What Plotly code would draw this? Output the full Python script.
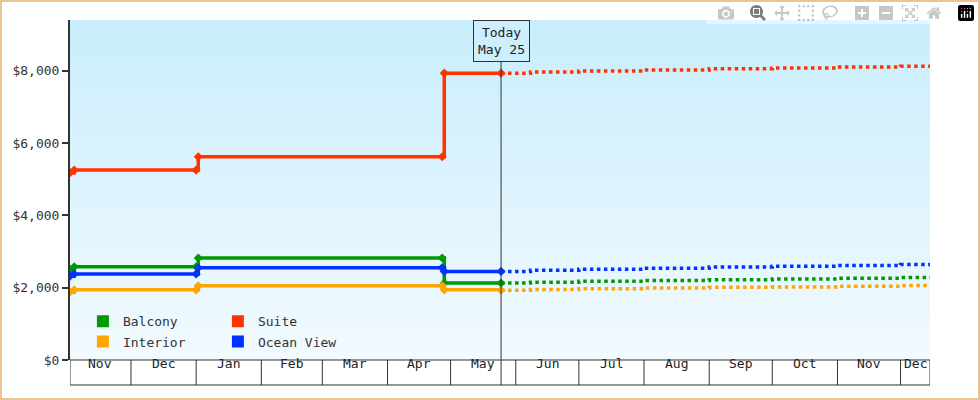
import plotly.graph_objects as go
import pandas as pd

# historical prices (step points)
hist_dates = ['2023-11-02', '2023-11-04', '2024-01-01', '2024-01-02', '2024-04-27', '2024-04-28', '2024-05-25']
balcony = [2500, 2580, 2580, 2820, 2820, 2130, 2130]
suite = [5180, 5250, 5250, 5620, 5620, 7930, 7930]
interior = [1880, 1940, 1940, 2050, 2050, 1940, 1930]
ocean_view = [2320, 2380, 2380, 2550, 2550, 2450, 2450]

# forecast prices
fc_dates = ['2024-05-25', '2024-06-08', '2024-07-01', '2024-08-01', '2024-09-01', '2024-10-01', '2024-11-01', '2024-12-01', '2024-12-15']
balcony_fc = [2130, 2150, 2180, 2200, 2220, 2240, 2260, 2280, 2280]
suite_fc = [7930, 7960, 7990, 8020, 8050, 8070, 8100, 8120, 8120]
interior_fc = [1930, 1950, 1970, 1990, 2010, 2020, 2040, 2060, 2060]
ocean_fc = [2450, 2480, 2510, 2540, 2570, 2590, 2610, 2640, 2640]

month_edges = ['2023-11-02', '2023-12-01', '2024-01-01', '2024-02-01', '2024-03-01', '2024-04-01', '2024-05-01',
               '2024-06-01', '2024-07-01', '2024-08-01', '2024-09-01', '2024-10-01', '2024-11-01', '2024-12-01', '2024-12-15']
month_labels = ['Nov', 'Dec', 'Jan', 'Feb', 'Mar', 'Apr', 'May', 'Jun', 'Jul', 'Aug', 'Sep', 'Oct', 'Nov', 'Dec']
today = '2024-05-25'

x0, x1 = month_edges[0], month_edges[-1]
ymax = 9400
series = [('Balcony', balcony, balcony_fc, '#009900', 'legend'),
          ('Suite', suite, suite_fc, '#ff3300', 'legend'),
          ('Interior', interior, interior_fc, '#ffa500', 'legend2'),
          ('Ocean View', ocean_view, ocean_fc, '#0033ff', 'legend2')]

fig = go.Figure()
# gradient background
fig.add_trace(go.Scatter(x=[x0, x1, x1, x0, x0], y=[0, 0, ymax, ymax, 0], mode='lines', line=dict(width=0),
                         fill='toself', hoverinfo='skip', showlegend=False,
                         fillgradient=dict(type='vertical', colorscale=[[0, '#f2fafe'], [1, '#c9edfc']])))

for name, h, f, c, lg in series:
    fig.add_trace(go.Scatter(x=fc_dates, y=f, mode='lines', line=dict(color=c, width=3.5, dash='dot', shape='hv'),
                             showlegend=False, hoverinfo='skip'))
    fig.add_trace(go.Scatter(x=hist_dates, y=h, mode='lines+markers', name=name, showlegend=False,
                             line=dict(color=c, width=3.5, shape='hv'),
                             marker=dict(color=c, size=7, symbol='diamond')))
    # legend swatch
    fig.add_trace(go.Scatter(x=[None], y=[None], mode='markers', name=name, legend=lg,
                             marker=dict(color=c, size=12, symbol='square')))

shapes = []
# month boxes under the axis
for e in month_edges:
    shapes.append(dict(type='line', xref='x', yref='paper', x0=e, x1=e, y0=0, y1=-25 / 340,
                       line=dict(color='#333', width=1)))
shapes.append(dict(type='line', xref='paper', yref='paper', x0=0, x1=1, y0=-25 / 340, y1=-25 / 340,
                   line=dict(color='#333', width=1)))
shapes.append(dict(type='line', xref='paper', yref='paper', x0=0, x1=1, y0=0, y1=0,
                   line=dict(color='#333', width=1)))
# today line
shapes.append(dict(type='line', xref='x', yref='paper', x0=today, x1=today, y0=-25 / 340, y1=1 - 40 / 340,
                   line=dict(color='#333', width=1)))
# outer border
shapes.append(dict(type='rect', xref='paper', yref='paper', x0=-69 / 860, x1=1 + 49 / 860,
                   y0=-39 / 340, y1=1 + 19 / 340, line=dict(color='#e8b070', width=1.5)))

annotations = []
ts = pd.to_datetime(month_edges)
for i, lab in enumerate(month_labels):
    mid = ts[i] + (ts[i + 1] - ts[i]) / 2
    annotations.append(dict(x=mid, y=-12.5 / 340, xref='x', yref='paper', text=lab, showarrow=False,
                            font=dict(size=13, color='#222')))
annotations.append(dict(x=today, y=1, xref='x', yref='paper', yanchor='top', text='Today<br>May 25',
                        showarrow=False, bgcolor='#cdeefc', bordercolor='#333', borderwidth=1, borderpad=4,
                        font=dict(size=13, color='#222')))

fig.update_layout(
    width=980, height=400, margin=dict(l=70, r=50, t=20, b=40),
    paper_bgcolor='white', plot_bgcolor='white',
    font=dict(family='DejaVu Sans Mono', size=13, color='#333'),
    shapes=shapes, annotations=annotations,
    xaxis=dict(range=[x0, x1], showticklabels=False, ticks='', showgrid=False, zeroline=False),
    yaxis=dict(range=[0, ymax], tickvals=[0, 2000, 4000, 6000, 8000], tickformat='$,d', ticks='outside',
               ticklen=6, tickwidth=2, tickcolor='#333', showline=True, linewidth=2, linecolor='#333',
               showgrid=False, zeroline=False),
    legend=dict(orientation='h', x=0.015, y=0.07, yanchor='bottom', bgcolor='rgba(0,0,0,0)',
                entrywidth=90, itemwidth=30, font=dict(size=13)),
    legend2=dict(orientation='h', x=0.015, y=0.01, yanchor='bottom', bgcolor='rgba(0,0,0,0)',
                 entrywidth=90, itemwidth=30, font=dict(size=13)),
    hovermode='closest',
)

fig.write_html('out.html', post_script="document.body.style.margin='0';")
